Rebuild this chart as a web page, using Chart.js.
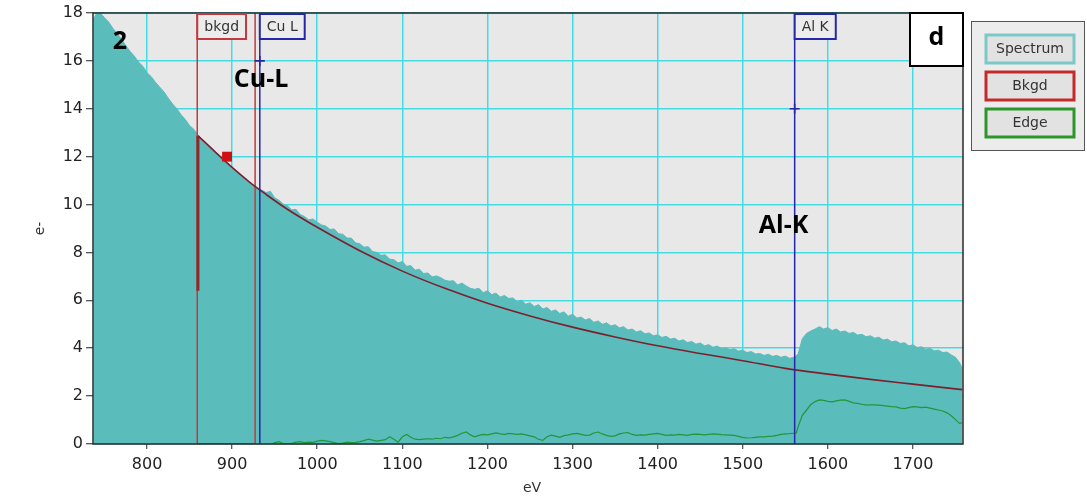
<!DOCTYPE html>
<html>
<head>
<meta charset="utf-8">
<script src="https://cdn.jsdelivr.net/npm/chart.js@4/dist/chart.umd.min.js"></script>
<style>
  body { margin: 0; background: #fff; }
  #wrap { width: 1087px; height: 497px; }
</style>
</head>
<body>
<div id="wrap"><canvas id="eels" width="1087" height="497"></canvas></div>
<script>
// EELS spectrum, 5 eV channels
const spectrumEV = [
  737, 740, 745, 750, 755, 760, 765, 770, 775, 780, 785, 790, 795, 800, 805, 810, 815, 820, 825, 830,
  835, 840, 845, 850, 855, 860, 865, 870, 875, 880, 885, 890, 895, 900, 905, 910, 915, 920, 925, 930,
  935, 940, 945, 950, 955, 960, 965, 970, 975, 980, 985, 990, 995, 1000, 1005, 1010, 1015, 1020, 1025, 1030,
  1035, 1040, 1045, 1050, 1055, 1060, 1065, 1070, 1075, 1080, 1085, 1090, 1095, 1100, 1105, 1110, 1115, 1120, 1125, 1130,
  1135, 1140, 1145, 1150, 1155, 1160, 1165, 1170, 1175, 1180, 1185, 1190, 1195, 1200, 1205, 1210, 1215, 1220, 1225, 1230,
  1235, 1240, 1245, 1250, 1255, 1260, 1265, 1270, 1275, 1280, 1285, 1290, 1295, 1300, 1305, 1310, 1315, 1320, 1325, 1330,
  1335, 1340, 1345, 1350, 1355, 1360, 1365, 1370, 1375, 1380, 1385, 1390, 1395, 1400, 1405, 1410, 1415, 1420, 1425, 1430,
  1435, 1440, 1445, 1450, 1455, 1460, 1465, 1470, 1475, 1480, 1485, 1490, 1495, 1500, 1505, 1510, 1515, 1520, 1525, 1530,
  1535, 1540, 1545, 1550, 1555, 1560, 1565, 1570, 1575, 1580, 1585, 1590, 1595, 1600, 1605, 1610, 1615, 1620, 1625, 1630,
  1635, 1640, 1645, 1650, 1655, 1660, 1665, 1670, 1675, 1680, 1685, 1690, 1695, 1700, 1705, 1710, 1715, 1720, 1725, 1730,
  1735, 1740, 1745, 1750, 1755, 1758
];
const spectrumCounts = [
  17.7, 17.95, 18.0, 17.8, 17.62, 17.35, 17.14, 16.9, 16.64, 16.4, 16.2, 15.95, 15.78, 15.5, 15.34, 15.1, 14.9, 14.7, 14.44, 14.2,
  14.0, 13.75, 13.55, 13.3, 13.14, 12.9, 12.72, 12.55, 12.38, 12.2, 12.04, 11.88, 11.7, 11.55, 11.4, 11.24, 11.08, 10.94, 10.8, 10.68,
  10.6, 10.5, 10.55, 10.28, 10.18, 10.02, 9.95, 9.78, 9.8, 9.58, 9.5, 9.36, 9.4, 9.26, 9.15, 9.1, 8.96, 8.98, 8.78, 8.76,
  8.6, 8.6, 8.4, 8.36, 8.22, 8.24, 8.04, 8.0, 7.88, 7.9, 7.72, 7.7, 7.56, 7.62, 7.42, 7.45, 7.26, 7.3, 7.12, 7.14,
  6.98, 7.02, 6.95, 6.84, 6.8, 6.82, 6.64, 6.72, 6.6, 6.5, 6.46, 6.5, 6.32, 6.4, 6.24, 6.3, 6.14, 6.2, 6.08, 6.1,
  5.94, 6.0, 5.84, 5.9, 5.74, 5.82, 5.64, 5.7, 5.54, 5.6, 5.45, 5.52, 5.34, 5.42, 5.26, 5.3, 5.18, 5.24, 5.08, 5.14,
  5.0, 5.06, 4.93, 4.98, 4.85, 4.9, 4.76, 4.8, 4.68, 4.73, 4.6, 4.64, 4.52, 4.56, 4.45, 4.5, 4.38, 4.42, 4.3, 4.35,
  4.24, 4.28, 4.17, 4.22, 4.1, 4.15, 4.04, 4.09, 3.99, 4.02, 3.94, 3.98, 3.88, 3.92, 3.82, 3.86, 3.76, 3.78, 3.7, 3.75,
  3.66, 3.7, 3.62, 3.67, 3.58, 3.62, 3.75, 4.4, 4.62, 4.72, 4.8, 4.9, 4.8, 4.86, 4.74, 4.8, 4.68, 4.72, 4.62, 4.66,
  4.55, 4.58, 4.48, 4.52, 4.42, 4.46, 4.34, 4.38, 4.27, 4.3, 4.2, 4.23, 4.1, 4.14, 4.03, 4.06, 3.96, 3.99, 3.89, 3.92,
  3.82, 3.84, 3.72, 3.62, 3.38, 3.15
];

// fitted background (power law), sampled
const bkgdEV = [860, 880, 900, 920, 940, 960, 980, 1000, 1050, 1100, 1150, 1200, 1250, 1300, 1350, 1400, 1450, 1500, 1550, 1600, 1650, 1700, 1758];
const bkgdCounts = [12.87, 12.2, 11.55, 10.95, 10.42, 9.92, 9.47, 9.05, 8.07, 7.22, 6.5, 5.88, 5.35, 4.88, 4.47, 4.1, 3.78, 3.48, 3.16, 2.92, 2.7, 2.5, 2.27];

// background-subtracted edge signal
const edgeEV = [
  948, 950, 955, 960, 965, 970, 975, 980, 985, 990, 995, 1000, 1005, 1010, 1015, 1020, 1025, 1030, 1035, 1040,
  1045, 1050, 1055, 1060, 1065, 1070, 1075, 1080, 1085, 1090, 1095, 1100, 1105, 1110, 1115, 1120, 1125, 1130, 1135, 1140,
  1145, 1150, 1155, 1160, 1165, 1170, 1175, 1180, 1185, 1190, 1195, 1200, 1205, 1210, 1215, 1220, 1225, 1230, 1235, 1240,
  1245, 1250, 1255, 1260, 1265, 1270, 1275, 1280, 1285, 1290, 1295, 1300, 1305, 1310, 1315, 1320, 1325, 1330, 1335, 1340,
  1345, 1350, 1355, 1360, 1365, 1370, 1375, 1380, 1385, 1390, 1395, 1400, 1405, 1410, 1415, 1420, 1425, 1430, 1435, 1440,
  1445, 1450, 1455, 1460, 1465, 1470, 1475, 1480, 1485, 1490, 1495, 1500, 1505, 1510, 1515, 1520, 1525, 1530, 1535, 1540,
  1545, 1550, 1555, 1560, 1563, 1565, 1570, 1575, 1580, 1585, 1590, 1595, 1600, 1605, 1610, 1615, 1620, 1625, 1630, 1635,
  1640, 1645, 1650, 1655, 1660, 1665, 1670, 1675, 1680, 1685, 1690, 1695, 1700, 1705, 1710, 1715, 1720, 1725, 1730, 1735,
  1740, 1745, 1750, 1755, 1758
];
const edgeCounts = [
  0.02, 0.06, 0.1, 0.02, 0.0, 0.03, 0.08, 0.1, 0.06, 0.08, 0.07, 0.12, 0.15, 0.13, 0.1, 0.06, 0.02, 0.04, 0.08, 0.06,
  0.07, 0.1, 0.14, 0.2, 0.16, 0.12, 0.15, 0.18, 0.3, 0.2, 0.08, 0.3, 0.4, 0.28, 0.2, 0.18, 0.2, 0.22, 0.2, 0.24,
  0.22, 0.28, 0.26, 0.3, 0.36, 0.45, 0.5, 0.38, 0.3, 0.36, 0.4, 0.38, 0.42, 0.46, 0.42, 0.4, 0.44, 0.42, 0.4, 0.42,
  0.38, 0.34, 0.3, 0.2, 0.15, 0.3, 0.37, 0.33, 0.28, 0.35, 0.38, 0.42, 0.44, 0.4, 0.36, 0.37, 0.46, 0.5, 0.42, 0.36,
  0.32, 0.34, 0.42, 0.46, 0.48, 0.4, 0.36, 0.38, 0.37, 0.4, 0.42, 0.44, 0.4, 0.36, 0.38, 0.37, 0.4, 0.38, 0.36, 0.4,
  0.41, 0.4, 0.38, 0.4, 0.42, 0.41, 0.39, 0.38, 0.37, 0.36, 0.32, 0.28, 0.25, 0.26, 0.28, 0.3, 0.3, 0.32, 0.33, 0.36,
  0.4, 0.42, 0.43, 0.45, 0.46, 0.72, 1.2, 1.42, 1.65, 1.77, 1.84, 1.82, 1.78, 1.76, 1.8, 1.83, 1.84, 1.78, 1.72, 1.7,
  1.66, 1.62, 1.64, 1.63, 1.62, 1.6, 1.58, 1.56, 1.55, 1.5, 1.48, 1.52, 1.56, 1.55, 1.52, 1.54, 1.5, 1.46, 1.42, 1.38,
  1.3, 1.18, 1.02, 0.85, 0.9
];

// background fit window and edge markers
const windowEV = [859, 927];
const windowStartMark = [12.87, 6.4];
const fitPoint = [894, 12.0];
const edgeNames = ['Cu L', 'Al K'];
const edgeOnsets = [932.5, 1561];
const edgeCrossY = [16, 14];

const xTicks = [800, 900, 1000, 1100, 1200, 1300, 1400, 1500, 1600, 1700];
const yTicks = [0, 2, 4, 6, 8, 10, 12, 14, 16, 18];

const legendItems = [
  { text: 'Spectrum', color: '#7cc8c8' },
  { text: 'Bkgd', color: '#c42a2a' },
  { text: 'Edge', color: '#2c962c' }
];

const TEAL = '#5bbcbc';
const NAVY = '#2626a8';
const WIN_RED = '#c2393e';

const pts = (xs, ys) => xs.map((x, i) => ({ x: x, y: ys[i] }));
const vline = (x) => [{ x: x, y: 0 }, { x: x, y: 18 }];

const datasets = [
  {
    label: 'Spectrum', data: pts(spectrumEV, spectrumCounts),
    borderColor: TEAL, backgroundColor: TEAL, borderWidth: 1,
    fill: 'origin', pointRadius: 0, tension: 0, order: 10
  },
  {
    label: 'window', data: [
      { x: windowEV[0], y: 18 }, { x: windowEV[0], y: 0 },
      { x: windowEV[1], y: 0 }, { x: windowEV[1], y: 18 }
    ],
    borderColor: WIN_RED, borderWidth: 1.5, pointRadius: 0, fill: false, order: 7
  },
  {
    label: 'windowStart', data: [{ x: windowEV[0] + 0.8, y: windowStartMark[0] }, { x: windowEV[0] + 0.8, y: windowStartMark[1] }],
    borderColor: '#8a2b2b', borderWidth: 3, pointRadius: 0, fill: false, order: 6
  },
  {
    label: 'Bkgd', data: pts(bkgdEV, bkgdCounts),
    borderColor: '#7e1f2e', borderWidth: 1.6, pointRadius: 0, fill: false,
    cubicInterpolationMode: 'monotone', order: 5
  },
  {
    label: 'Edge', data: pts(edgeEV, edgeCounts),
    borderColor: '#1f9838', borderWidth: 1.2, pointRadius: 0, fill: false, tension: 0, order: 4
  },
  {
    label: edgeNames[0], data: vline(edgeOnsets[0]),
    borderColor: NAVY, borderWidth: 1.5, pointRadius: 0, fill: false, order: 3
  },
  {
    label: edgeNames[1], data: vline(edgeOnsets[1]),
    borderColor: NAVY, borderWidth: 1.5, pointRadius: 0, fill: false, order: 3
  },
  {
    label: 'cross', data: pts(edgeOnsets, edgeCrossY), showLine: false,
    pointStyle: 'cross', pointRadius: 5, pointBorderWidth: 1.6,
    pointBorderColor: NAVY, borderColor: NAVY, order: 2
  },
  {
    label: 'fit', data: [{ x: fitPoint[0], y: fitPoint[1] }], showLine: false,
    pointStyle: 'rect', pointRadius: 7, pointBorderWidth: 0,
    pointBackgroundColor: '#d01010', backgroundColor: '#d01010', borderColor: '#d01010', order: 1
  }
];

const overlay = {
  id: 'overlay',
  beforeDraw(chart) {
    const { ctx, chartArea: a } = chart;
    ctx.save();
    ctx.fillStyle = '#e8e8e8';
    ctx.fillRect(a.left, a.top, a.right - a.left, a.bottom - a.top);
    ctx.restore();
  },
  afterDatasetsDraw(chart) {
    const { ctx, chartArea: a, scales } = chart;
    const xs = scales.x, ys = scales.y;
    ctx.save();
    // plot frame
    ctx.strokeStyle = '#2a2a2a';
    ctx.lineWidth = 1.5;
    ctx.strokeRect(a.left, a.top, a.right - a.left, a.bottom - a.top);

    // tags on window and edge markers
    const tags = [
      { text: 'bkgd', at: windowEV[0], color: WIN_RED },
      { text: edgeNames[0], at: edgeOnsets[0], color: NAVY },
      { text: edgeNames[1], at: edgeOnsets[1], color: NAVY }
    ];
    ctx.font = '14px "DejaVu Sans"';
    ctx.textAlign = 'center';
    ctx.textBaseline = 'middle';
    tags.forEach(t => {
      const w = ctx.measureText(t.text).width + 14;
      const x = xs.getPixelForValue(t.at);
      ctx.fillStyle = '#ececec';
      ctx.fillRect(x, a.top + 1, w, 25);
      ctx.strokeStyle = t.color;
      ctx.lineWidth = 2;
      ctx.strokeRect(x, a.top + 1, w, 25);
      ctx.fillStyle = '#333';
      ctx.fillText(t.text, x + w / 2, a.top + 14);
    });

    // annotations
    ctx.fillStyle = '#000';
    ctx.font = 'bold 25px "Open Sans"';
    ctx.fillText('2', xs.getPixelForValue(768), ys.getPixelForValue(16.8));
    ctx.fillText('Cu-L', xs.getPixelForValue(934), ys.getPixelForValue(15.2));
    ctx.fillText('Al-K', xs.getPixelForValue(1548), ys.getPixelForValue(9.1));

    // panel letter
    const bw = 53;
    ctx.fillStyle = '#fff';
    ctx.fillRect(a.right - bw, a.top, bw, bw);
    ctx.strokeStyle = '#000';
    ctx.lineWidth = 2;
    ctx.strokeRect(a.right - bw, a.top, bw, bw);
    ctx.fillStyle = '#000';
    ctx.fillText('d', a.right - bw / 2, a.top + bw / 2 - 2);
    ctx.restore();
  },
  afterDraw(chart) {
    const { ctx, chartArea: a } = chart;
    ctx.save();
    // legend panel
    ctx.fillStyle = '#ececec';
    ctx.fillRect(971, 21, 113, 129);
    ctx.strokeStyle = '#555';
    ctx.lineWidth = 1;
    ctx.strokeRect(971.5, 21.5, 113, 129);
    ctx.font = '14px "DejaVu Sans"';
    ctx.textAlign = 'center';
    ctx.textBaseline = 'middle';
    legendItems.forEach((it, i) => {
      const y = 35 + i * 37;
      ctx.fillStyle = '#e2e2e2';
      ctx.fillRect(986, y, 88, 28);
      ctx.strokeStyle = it.color;
      ctx.lineWidth = 3;
      ctx.strokeRect(986, y, 88, 28);
      ctx.fillStyle = '#333';
      ctx.fillText(it.text, 1030, y + 14);
    });

    // axis titles
    ctx.fillStyle = '#333';
    ctx.font = '14px "DejaVu Sans"';
    ctx.fillText('eV', (a.left + a.right) / 2 + 4, 488);
    ctx.translate(40, (a.top + a.bottom) / 2);
    ctx.rotate(-Math.PI / 2);
    ctx.fillText('e-', 0, 0);
    ctx.restore();
  }
};

new Chart(document.getElementById('eels'), {
  type: 'line',
  data: { datasets: datasets },
  plugins: [overlay],
  options: {
    responsive: false,
    animation: false,
    layout: { padding: { top: 13, right: 124, bottom: 0, left: 0 } },
    plugins: { legend: { display: false }, tooltip: { enabled: false } },
    scales: {
      x: {
        type: 'linear', min: 736.5, max: 1758.8,
        afterBuildTicks: s => { s.ticks = xTicks.map(v => ({ value: v })); },
        afterFit: s => { s.height = 53; },
        ticks: { font: { family: 'DejaVu Sans', size: 16 }, color: '#222', padding: 6, maxRotation: 0, callback: v => String(v) },
        grid: { color: '#44dbe5', lineWidth: 1.5, tickColor: '#222', tickLength: 5, tickWidth: 1 },
        border: { display: false }
      },
      y: {
        type: 'linear', min: 0, max: 18,
        afterBuildTicks: s => { s.ticks = yTicks.map(v => ({ value: v })); },
        afterFit: s => { s.width = 93; },
        ticks: { font: { family: 'DejaVu Sans', size: 16 }, color: '#222', padding: 3, callback: v => String(v) },
        grid: { color: '#44dbe5', lineWidth: 1.5, tickColor: '#222', tickLength: 7, tickWidth: 1 },
        border: { display: false }
      }
    }
  }
});
</script>
</body>
</html>
